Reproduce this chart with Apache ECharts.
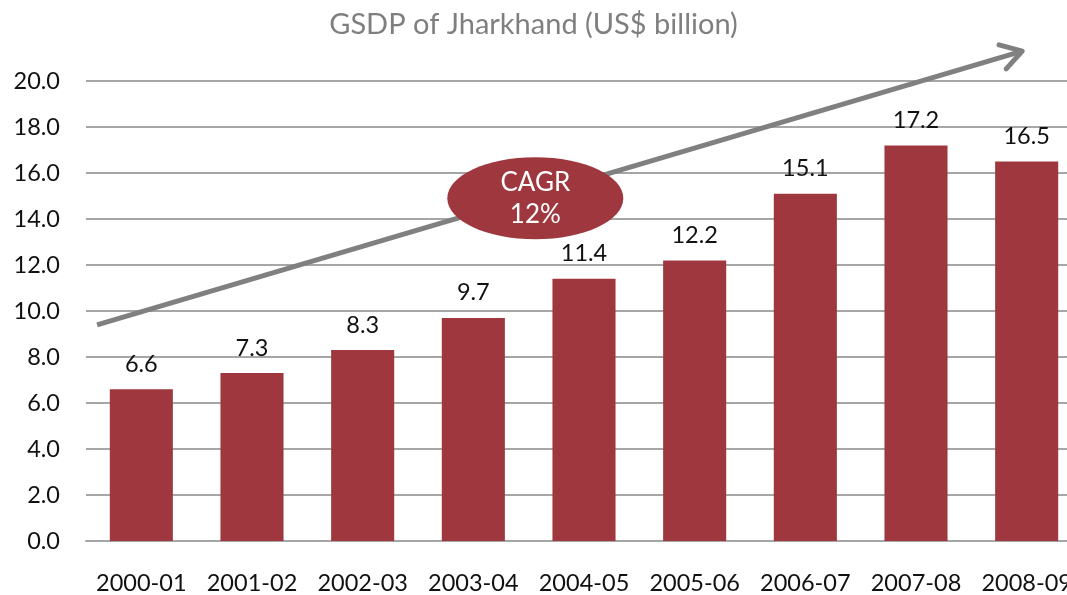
<!DOCTYPE html>
<html><head><meta charset="utf-8">
<script src="https://cdn.jsdelivr.net/npm/echarts@6/dist/echarts.min.js"></script>
<style>html,body{margin:0;padding:0;background:#fff}#c{width:1067px;height:595px}</style>
</head><body><div id="c"></div>
<script>
const categories = ['2000-01','2001-02','2002-03','2003-04','2004-05','2005-06','2006-07','2007-08','2008-09'];
const gsdp = [6.6, 7.3, 8.3, 9.7, 11.4, 12.2, 15.1, 17.2, 16.5];
const yTicks = [0, 2, 4, 6, 8, 10, 12, 14, 16, 18, 20];
const titleText = 'GSDP of Jharkhand (US$ billion)';
const cagrLabel = ['CAGR', '12%'];
// trend arrow endpoints in data space [category index, value]
const arrowStart = [-0.40, 9.4];
const arrowEnd = [7.96, 21.3];
const cagrCenter = [3.56, 14.9];

const chart = echarts.init(document.getElementById('c'));
const font = 'Lato, "Open Sans", sans-serif';
chart.setOption({
  animation: false,
  title: { text: titleText, left: 'center', top: 5,
    textStyle: { color: '#7f7f7f', fontSize: 29, fontWeight: 'normal', fontFamily: font } },
  grid: { left: 86, width: 996, top: 81, bottom: 54, containLabel: false, outerBoundsMode: 'none' },
  xAxis: [{
    type: 'category', data: categories,
    axisLine: { show: true, lineStyle: { color: '#a6a6a6', width: 2 } },
    axisTick: { show: false },
    axisLabel: { color: '#111', fontSize: 23.5, fontFamily: font, margin: 30, interval: 0 }
  }, {
    type: 'value', min: -0.5, max: 8.5, show: false
  }],
  yAxis: {
    type: 'value', min: 0, max: 20, interval: 2,
    axisLine: { show: false }, axisTick: { show: false },
    splitLine: { lineStyle: { color: '#a6a6a6', width: 2 } },
    axisLabel: { color: '#111', fontSize: 23.5, fontFamily: font, margin: 26,
      formatter: v => yTicks.includes(v) ? v.toFixed(1) : '' }
  },
  series: [{
    type: 'bar', data: gsdp, xAxisIndex: 0, barCategoryGap: '43%',
    itemStyle: { color: '#9e383e' },
    label: { show: true, position: 'top', distance: 13, color: '#111',
      fontSize: 23.5, fontFamily: font, formatter: p => p.value.toFixed(1) }
  }]
});

function px(p) { return chart.convertToPixel({ xAxisIndex: 1, yAxisIndex: 0 }, p); }
const s = px(arrowStart), e = px(arrowEnd), c = px(cagrCenter);
const ang = Math.atan2(e[1] - s[1], e[0] - s[0]);
const head = 24, spread = 0.55;
const h1 = [e[0] - head * Math.cos(ang - spread), e[1] - head * Math.sin(ang - spread)];
const h2 = [e[0] - head * Math.cos(ang + spread), e[1] - head * Math.sin(ang + spread)];
chart.setOption({
  graphic: [
    { type: 'line', shape: { x1: s[0], y1: s[1], x2: e[0], y2: e[1] },
      style: { stroke: '#808080', lineWidth: 5 }, z: 10 },
    { type: 'polyline', shape: { points: [h1, e, h2] },
      style: { stroke: '#808080', lineWidth: 5, fill: null, lineCap: 'round', lineJoin: 'round' }, z: 10 },
    { type: 'ellipse', shape: { cx: c[0], cy: c[1], rx: 88, ry: 41 },
      style: { fill: '#9e383e' }, z: 11 },
    { type: 'text', x: c[0], y: c[1], z: 12,
      style: { text: cagrLabel.join('\n'), fill: '#fff', fontSize: 26, lineHeight: 32,
        fontFamily: font, align: 'center', verticalAlign: 'middle' } }
  ]
});
</script></body></html>
